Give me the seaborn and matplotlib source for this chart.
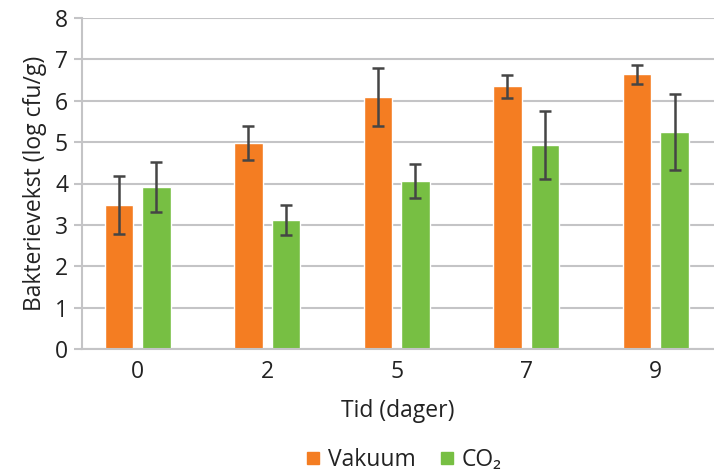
import numpy as np
import pandas as pd
import matplotlib
matplotlib.use("Agg")
import matplotlib.pyplot as plt
from matplotlib.lines import Line2D
import seaborn as sns

# --- Data ---
days = ["0", "2", "5", "7", "9"]
vakuum = [3.48, 4.98, 6.09, 6.35, 6.64]
vakuum_err = [0.70, 0.42, 0.70, 0.28, 0.23]
co2 = [3.91, 3.12, 4.06, 4.93, 5.24]
co2_err = [0.61, 0.37, 0.40, 0.83, 0.92]
series = ["Vakuum", "CO₂"]

orange = "#F47D22"
green = "#77BF43"
grid_col = "#C4C4C6"
text_col = "#222222"
fs = 16.5

df = pd.DataFrame({
    "dag": days * 2,
    "verdi": vakuum + co2,
    "err": vakuum_err + co2_err,
    "gruppe": [series[0]] * len(days) + [series[1]] * len(days),
})

sns.set_theme(style="white")
plt.rcParams["font.family"] = ["Open Sans", "DejaVu Sans"]

fig = plt.figure(figsize=(7.14, 4.74), dpi=100)
ax = fig.add_axes([82 / 714, 1 - 349 / 474, 1 - 82 / 714, (349 - 18) / 474])

sns.barplot(data=df, x="dag", y="verdi", hue="gruppe", order=days,
            hue_order=series, palette=[orange, green], width=0.58, gap=0.24,
            errorbar=None, saturation=1, legend=False, ax=ax, zorder=2)

# error bars on top of the bars that seaborn drew
bars = [p for p in ax.patches if p.get_height() > 0]
for p, e in zip(bars, vakuum_err + co2_err):
    ax.errorbar(p.get_x() + p.get_width() / 2, p.get_height(), yerr=e,
                fmt="none", ecolor="#454545", elinewidth=1.8, capsize=4.5,
                capthick=1.8, zorder=3)

ax.set_ylim(0, 8)
ax.set_yticks(range(0, 9))
ax.set_xlim(-0.43, 4.45)
ax.yaxis.grid(True, color=grid_col, linewidth=1.5, zorder=0)
ax.set_axisbelow(True)

for s in ["top", "right"]:
    ax.spines[s].set_visible(False)
for s in ["left", "bottom"]:
    ax.spines[s].set_color(grid_col)
    ax.spines[s].set_linewidth(1.5)

ax.tick_params(axis="y", length=6, width=1.5, color=grid_col, pad=4,
               labelsize=fs, labelcolor=text_col, left=True)
ax.tick_params(axis="x", length=0, pad=8, labelsize=fs, labelcolor=text_col)

ax.set_xlabel("Tid (dager)", fontsize=fs, color=text_col, labelpad=11)
ax.set_ylabel("Bakterievekst (log cfu/g)", fontsize=fs, color=text_col, labelpad=6)

handles = [Line2D([], [], marker="s", linestyle="none", markersize=9,
                  markerfacecolor=c, markeredgecolor=c) for c in (orange, green)]
fig.legend(handles, series, loc="center", bbox_to_anchor=(0.565, 0.03), ncol=2,
           frameon=False, fontsize=fs, handlelength=0.7, handletextpad=0.3,
           columnspacing=1.0, labelcolor=text_col)

fig.savefig("out.png", dpi=100)
